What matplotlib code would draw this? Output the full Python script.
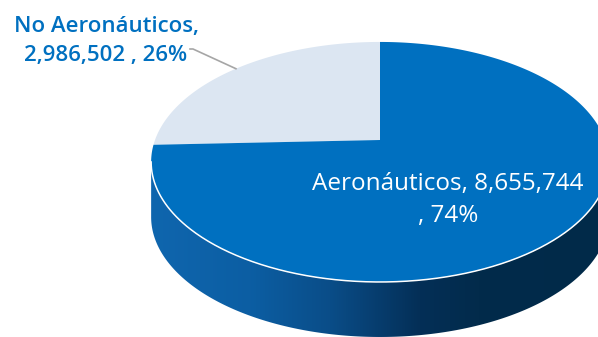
import numpy as np
import matplotlib.pyplot as plt
from matplotlib.patches import Polygon
from matplotlib.colors import LinearSegmentedColormap

categories = ["No Aeronáuticos", "Aeronáuticos"]
values = [2986502, 8655744]
colors = ["#dce6f2", "#0070c0"]

# perspective ellipse for the top face of the disc
cx, cy = 380, 140
A, B, K = 225, 116, 0.183
depth = 55


def proj(t, dy=0):
    w = 1 + K * np.sin(t)
    return cx + A * np.cos(t) / w, cy - B * np.sin(t) / w + dy


fig = plt.figure(figsize=(5.98, 3.37), dpi=100)
ax = fig.add_axes([0, 0, 1, 1])
ax.set_xlim(0, 598)
ax.set_ylim(337, 0)
ax.axis("off")

total = sum(values)
fracs = [v / total for v in values]

# visible side of the cylinder, between the silhouette points
t_left = np.pi + np.arcsin(K)
t_right = 2 * np.pi - np.arcsin(K)
ts = np.linspace(t_left, t_right, 300)
xt, yt = proj(ts)
xb, yb = proj(ts[::-1], depth)
side = Polygon(np.column_stack([np.r_[xt, xb], np.r_[yt, yb]]),
               closed=True, facecolor="none", edgecolor="none")
ax.add_patch(side)

stops = [(150, "#0f66ae"), (250, "#0c5ea3"), (330, "#0a4d88"),
         (420, "#042f57"), (480, "#022b4b"), (610, "#012a49")]
x0, x1 = stops[0][0], stops[-1][0]
cmap = LinearSegmentedColormap.from_list(
    "side", [((x - x0) / (x1 - x0), c) for x, c in stops])
grad = np.linspace(0, 1, 512)[None, :]
img = ax.imshow(grad, cmap=cmap, aspect="auto",
                extent=[x0, x1, 337, 0], zorder=1)
img.set_clip_path(side)

# top face wedges, starting at 12 o'clock going counter-clockwise
start = np.pi / 2
mids = []
for frac, col in zip(fracs, colors):
    end = start + frac * 2 * np.pi
    tt = np.linspace(start, end, 300)
    px, py = proj(tt)
    ax.add_patch(Polygon(np.column_stack([np.r_[cx, px], np.r_[cy, py]]),
                         closed=True, facecolor=col, edgecolor="none", zorder=2))
    mids.append((start + end) / 2)
    start = end

# light rim along the front edge
ax.plot(xt, yt, color="white", lw=1.1, zorder=3)

pct = [f"{round(f * 100)}%" for f in fracs]

# outside label with leader line
lx, ly = proj(mids[0])
ax.plot([190, 193, lx], [49, 49, ly], color="#a6a6a6", lw=1.2, zorder=3)
ax.text(106, 41, f"{categories[0]},\n{values[0]:,} , {pct[0]}",
        ha="center", va="center", fontsize=16, color="#0070c0",
        family="Open Sans", fontweight="semibold", linespacing=1.55, zorder=4)

# inside label
ax.text(448, 200, f"{categories[1]}, {values[1]:,}\n, {pct[1]}",
        ha="center", va="center", fontsize=17.5, color="white",
        family="Open Sans", fontweight="medium", linespacing=1.45, zorder=4)

fig.savefig("out.png", dpi=100)
